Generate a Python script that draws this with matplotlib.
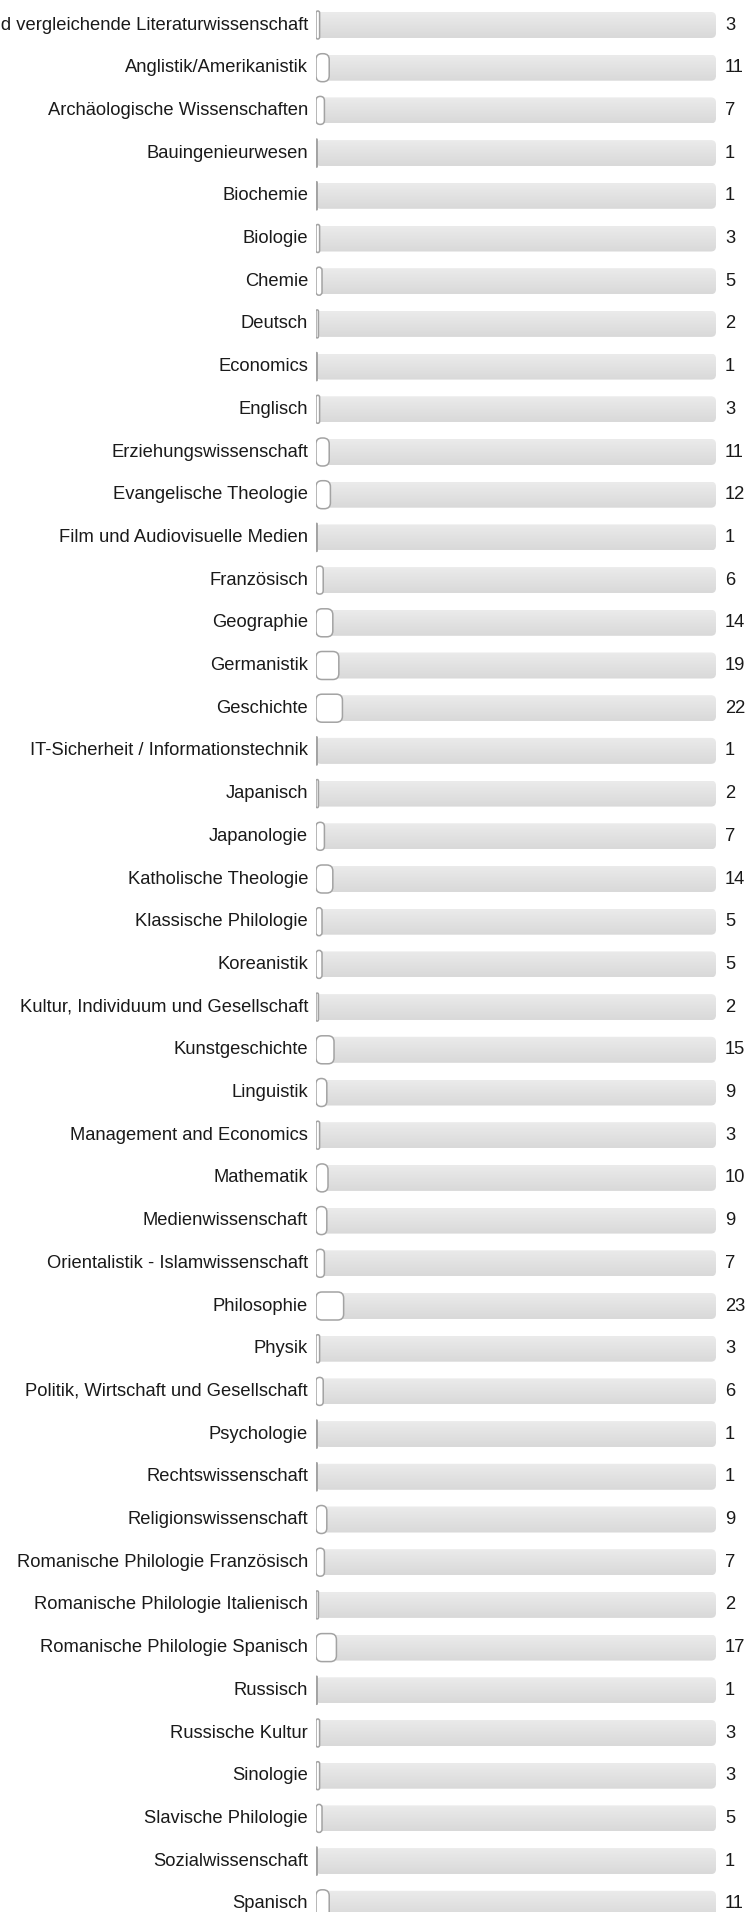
import matplotlib
matplotlib.use('Agg')
import matplotlib.pyplot as plt
from matplotlib.patches import FancyBboxPatch
import numpy as np

# ── Data ─────────────────────────────────────────────────────
subjects = [
    'Allgemeine und vergleichende Literaturwissenschaft', 'Anglistik/Amerikanistik',
    'Archäologische Wissenschaften', 'Bauingenieurwesen', 'Biochemie', 'Biologie',
    'Chemie', 'Deutsch', 'Economics', 'Englisch', 'Erziehungswissenschaft',
    'Evangelische Theologie', 'Film und Audiovisuelle Medien', 'Französisch',
    'Geographie', 'Germanistik', 'Geschichte', 'IT-Sicherheit / Informationstechnik',
    'Japanisch', 'Japanologie', 'Katholische Theologie', 'Klassische Philologie',
    'Koreanistik', 'Kultur, Individuum und Gesellschaft', 'Kunstgeschichte',
    'Linguistik', 'Management and Economics', 'Mathematik', 'Medienwissenschaft',
    'Orientalistik - Islamwissenschaft', 'Philosophie', 'Physik',
    'Politik, Wirtschaft und Gesellschaft', 'Psychologie', 'Rechtswissenschaft',
    'Religionswissenschaft', 'Romanische Philologie Französisch',
    'Romanische Philologie Italienisch', 'Romanische Philologie Spanisch',
    'Russisch', 'Russische Kultur', 'Sinologie', 'Slavische Philologie',
    'Sozialwissenschaft', 'Spanisch',
]
counts = [3, 11, 7, 1, 1, 3, 5, 2, 1, 3, 11, 12, 1, 6, 14, 19, 22, 1, 2, 7, 14, 5,
          5, 2, 15, 9, 3, 10, 9, 7, 23, 3, 6, 1, 1, 9, 7, 2, 17, 1, 3, 3, 5, 1, 11]
scale_max = 333

# ── Layout (pixels) ──────────────────────────────────────────
W, H, DPI = 748, 1912, 100
track_left, track_w = 316, 400
row_top, row_step = 25, 42.7
px_x = track_w / scale_max          # pixels per count
track_h = 26 / row_step             # in row units
bar_h = 28 / row_step
r_track = 5 / px_x
r_bar = 6 / px_x
aspect = px_x / row_step

plt.rcParams['font.family'] = ['Liberation Sans', 'DejaVu Sans']

fig = plt.figure(figsize=(W / DPI, H / DPI), dpi=DPI, facecolor='white')
ax = fig.add_axes([track_left / W, 0, track_w / W, 1])
ax.set_xlim(0, scale_max)
ax.set_ylim((H - row_top) / row_step, -row_top / row_step)
ax.axis('off')

grad = np.linspace(0, 1, 50).reshape(-1, 1)
cmap = matplotlib.colors.LinearSegmentedColormap.from_list('trk', ['#ebebeb', '#d9d9d9'])

for i, (name, val) in enumerate(zip(subjects, counts)):
    # background track
    trk = FancyBboxPatch((0, i - track_h / 2), scale_max, track_h,
                         boxstyle=f'round,pad=0,rounding_size={r_track}',
                         mutation_aspect=aspect, facecolor='none', edgecolor='none')
    ax.add_patch(trk)
    im = ax.imshow(grad, cmap=cmap, aspect='auto',
                   extent=(0, scale_max, i + track_h / 2, i - track_h / 2), zorder=1)
    im.set_clip_path(trk)

    # value bar
    w = val
    rs = min(r_bar, w / 2)
    bar = FancyBboxPatch((0, i - bar_h / 2), w, bar_h,
                         boxstyle=f'round,pad=0,rounding_size={rs}',
                         mutation_aspect=aspect, facecolor='white',
                         edgecolor='#a3a3a3', linewidth=1.1, zorder=3)
    ax.add_patch(bar)

    ax.annotate(name, (0, i), xytext=(-8, 0), textcoords='offset pixels',
                ha='right', va='center', fontsize=13.2, color='#1a1a1a',
                annotation_clip=False)
    ax.annotate(str(val), (scale_max, i), xytext=(9, 0), textcoords='offset pixels',
                ha='left', va='center', fontsize=13.2, color='#1a1a1a',
                annotation_clip=False)

fig.savefig('out.png', dpi=DPI, facecolor='white')
